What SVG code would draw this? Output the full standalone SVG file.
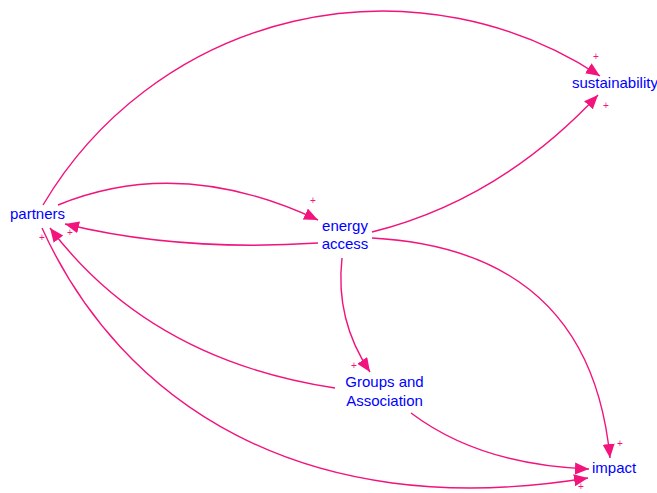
<svg xmlns="http://www.w3.org/2000/svg" width="657" height="493" viewBox="0 0 657 493">
  <style>
    .lbl { font-family: "Liberation Sans", Arial, sans-serif; font-size: 15px; fill: #0000ff; }
    .mid { text-anchor: middle; }
    .link { fill: none; stroke: #f2137d; stroke-width: 1.4; marker-end: url(#head); }
    .pol { font-family: "Liberation Sans", Arial, sans-serif; font-size: 10px; fill: #f2137d; text-anchor: middle; }
  </style>
  <defs>
    <marker id="head" markerUnits="userSpaceOnUse" markerWidth="16" markerHeight="14" refX="14" refY="6" orient="auto">
      <path d="M0,0 L14,6 L0,12 Z" fill="#f2137d"/>
    </marker>
  </defs>
  <rect width="657" height="493" fill="#ffffff"/>

  <g id="connectors">
    <!-- partners -> sustainability -->
    <path class="link" d="M43,205 A395,395 0 0 1 600,76"/>
    <!-- energy access -> sustainability -->
    <path class="link" d="M372,232 Q500,200 598,95"/>
    <!-- partners -> energy access -->
    <path class="link" d="M58,205 Q180,155 318,220"/>
    <!-- energy access -> partners -->
    <path class="link" d="M318,243 Q180,252 65,224"/>
    <!-- energy access -> Groups and Association -->
    <path class="link" d="M342,258 Q335,320 370,372"/>
    <!-- energy access -> impact -->
    <path class="link" d="M372,238 Q590,250 610,458"/>
    <!-- Groups and Association -> partners -->
    <path class="link" d="M335,388 Q150,360 50,228"/>
    <!-- Groups and Association -> impact -->
    <path class="link" d="M411,413 Q480,465 589,469"/>
    <!-- partners -> impact -->
    <path class="link" d="M42,228 C120,400 300,525 588,478"/>

    <!-- link polarities -->
    <text class="pol" x="596" y="60">+</text>
    <text class="pol" x="606" y="109">+</text>
    <text class="pol" x="313" y="204">+</text>
    <text class="pol" x="70" y="236">+</text>
    <text class="pol" x="42" y="241">+</text>
    <text class="pol" x="354" y="369">+</text>
    <text class="pol" x="620" y="447">+</text>
    <text class="pol" x="581" y="490">+</text>
  </g>

  <g id="partners">
    <text class="lbl" x="10" y="219">partners</text>
  </g>
  <g id="energy-access">
    <text class="lbl mid" x="345" y="231">energy</text>
    <text class="lbl mid" x="345" y="249">access</text>
  </g>
  <g id="sustainability">
    <text class="lbl" x="572" y="88">sustainability</text>
  </g>
  <g id="groups-and-association">
    <text class="lbl mid" x="384.5" y="387">Groups and</text>
    <text class="lbl mid" x="384.5" y="406">Association</text>
  </g>
  <g id="impact">
    <text class="lbl" x="592" y="473">impact</text>
  </g>
</svg>
